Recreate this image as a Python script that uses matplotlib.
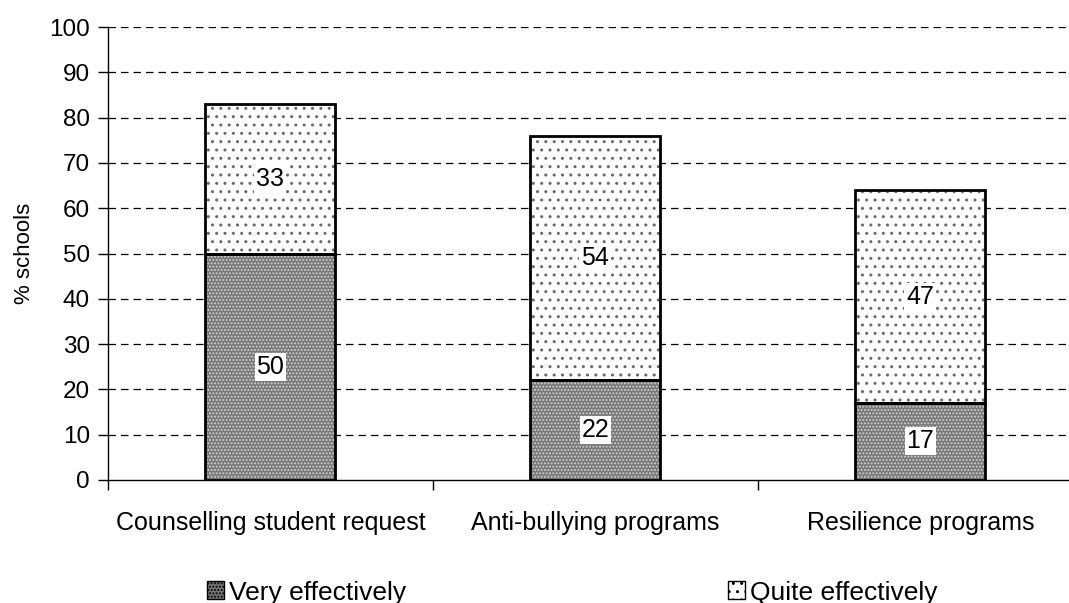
import numpy as np
import matplotlib
matplotlib.use("Agg")
from matplotlib import pyplot as plt
from matplotlib.patches import Patch

plt.rcParams['font.family'] = ['Liberation Sans', 'DejaVu Sans']
plt.rcParams['hatch.linewidth'] = 1.0

# data
categories = ["Counselling student request", "Anti-bullying programs", "Resilience programs"]
very_effectively = [50, 22, 17]
quite_effectively = [33, 54, 47]

fig = plt.figure(figsize=(10.69, 6.03), dpi=100)
ax = fig.add_axes([0.101, 0.204, 0.912, 0.751])

x = np.arange(len(categories))
width = 0.4

#dark checker-like fill for "very effectively"
ax.bar(x, very_effectively, width, color='#767676', edgecolor='#d0d0d0', hatch='.....', linewidth=0, zorder=2)
ax.bar(x, very_effectively, width, fill=False, edgecolor='black', linewidth=2, zorder=3)

#sparse dots for "quite effectively"
ax.bar(x, quite_effectively, width, bottom=very_effectively, color='white', edgecolor='#6a6a6a', hatch='..', linewidth=0, zorder=2)
ax.bar(x, quite_effectively, width, bottom=very_effectively, fill=False, edgecolor='black', linewidth=2, zorder=3)

# value labels in white boxes
for i in range(len(categories)):
    v = very_effectively[i]
    q = quite_effectively[i]
    ax.text(x[i], v / 2, str(v), ha='center', va='center', fontsize=18, zorder=4,
            bbox=dict(facecolor='white', edgecolor='none', pad=1.5))
    ax.text(x[i], v + q / 2, str(q), ha='center', va='center', fontsize=18, zorder=4,
            bbox=dict(facecolor='white', edgecolor='none', pad=1.5))

ax.set_ylim(0, 100)
ax.set_xlim(-0.5, len(categories) - 0.5)
ax.set_yticks(np.arange(0, 101, 10))
ax.set_xticks(x)
ax.set_xticklabels(categories)
ax.set_xticks(np.arange(-0.5, len(categories), 1), minor=True)
ax.tick_params(axis='x', which='major', length=0, pad=22, labelsize=18)
ax.tick_params(axis='x', which='minor', length=7, width=1, direction='out')
ax.tick_params(axis='y', length=7, width=1, direction='out', labelsize=17.5, pad=6)
ax.set_ylabel('% schools', fontsize=16, labelpad=10)

for yv in range(10, 101, 10):
    ax.axhline(yv, color='black', linestyle=(0, (6, 4)), linewidth=0.9, zorder=1)

ax.spines['top'].set_visible(False)
ax.spines['right'].set_visible(False)
ax.spines['left'].set_linewidth(1)
ax.spines['bottom'].set_linewidth(1)

handles = [Patch(facecolor='#767676', edgecolor='black', hatch='.....', label='Very effectively'),
           Patch(facecolor='white', edgecolor='black', hatch='..', label='Quite effectively')]
fig.legend(handles=handles, loc='lower left', bbox_to_anchor=(0.171, -0.042), ncol=2, frameon=False,
           fontsize=19, handlelength=0.65, handleheight=0.65, handletextpad=0.2, columnspacing=12.2)

fig.savefig("out.png", dpi=100)
